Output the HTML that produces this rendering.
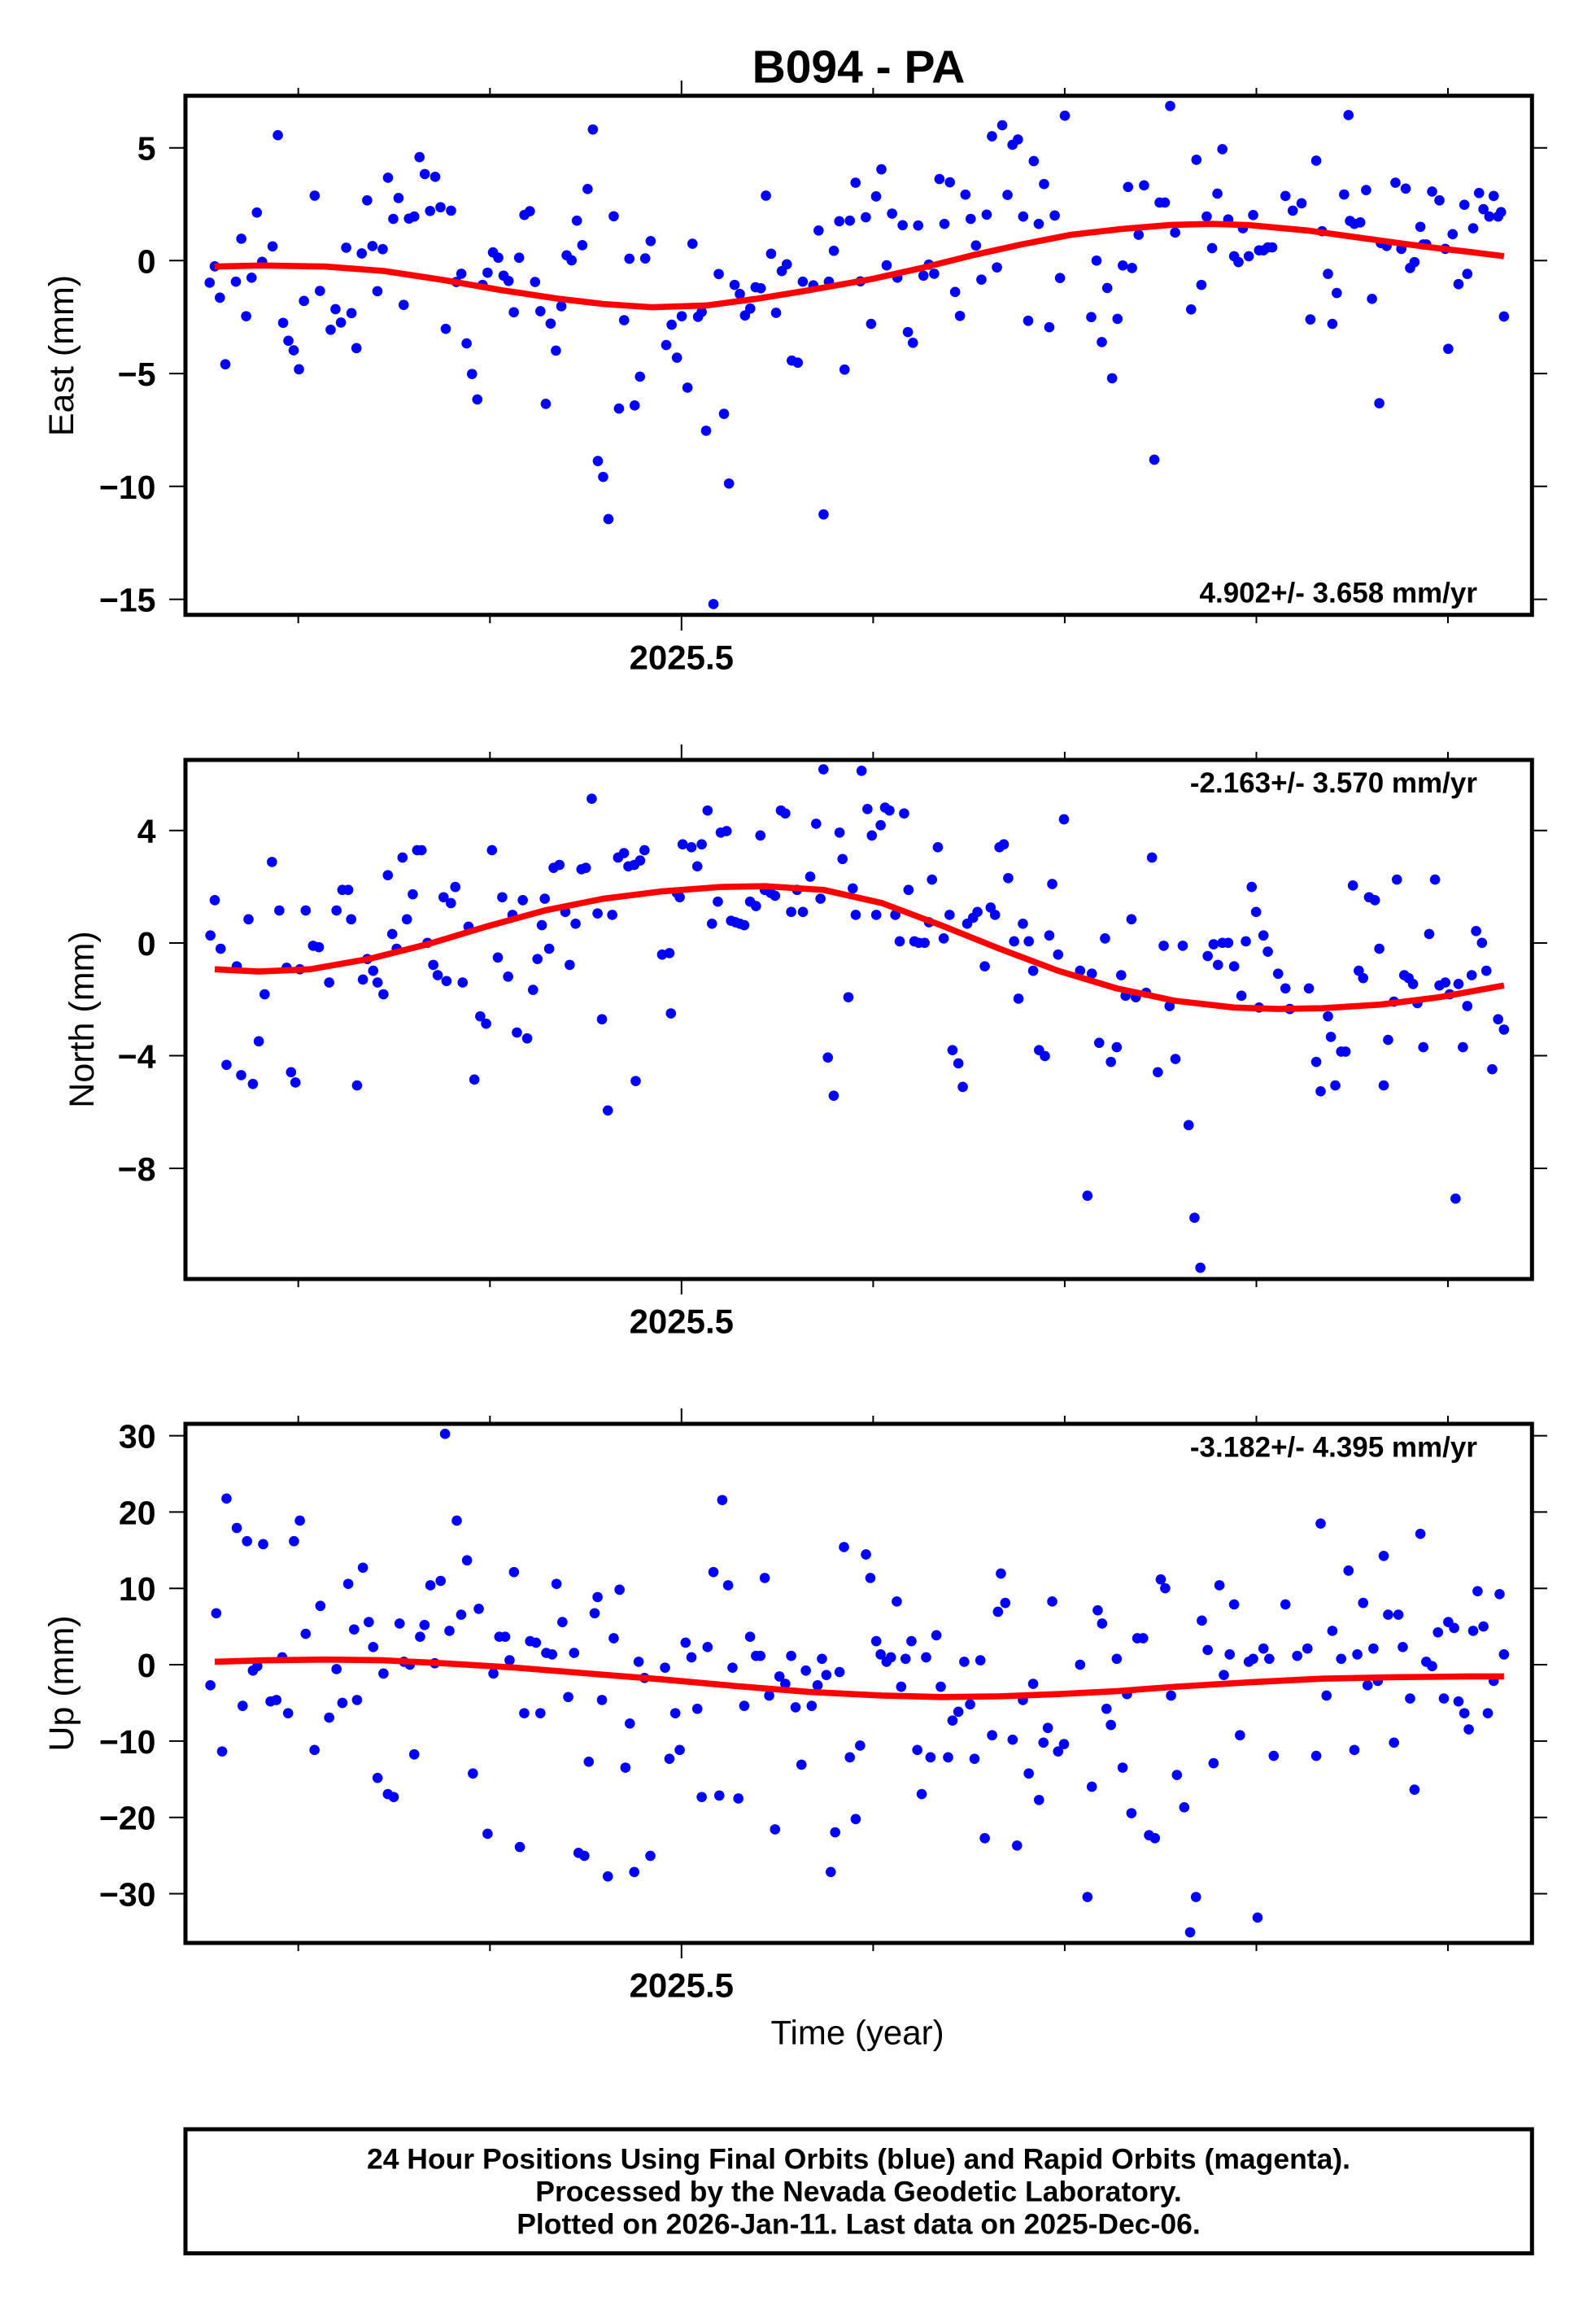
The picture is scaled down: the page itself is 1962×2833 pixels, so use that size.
<!DOCTYPE html>
<html><head><meta charset="utf-8"><style>
html,body{margin:0;padding:0;background:#fff}
svg{display:block}
text{font-family:"Liberation Sans",Arial,Helvetica,sans-serif;fill:#000}
.d circle{fill:#0000ff}
</style></head><body>
<svg xmlns="http://www.w3.org/2000/svg" width="1962" height="2833" viewBox="0 0 1962 2833">
<rect width="1962" height="2833" fill="#fff"/>
<text x="1055.5" y="101.7" font-size="57" font-weight="bold" text-anchor="middle">B094 - PA</text>

<g transform="matrix(1.803 0 0 1.807 2.6 0.5)">
<g class="d">
<circle cx="141.5" cy="192" r="3.5"/><circle cx="145" cy="180.9" r="3.5"/><circle cx="148.5" cy="202.2" r="3.5"/><circle cx="152.2" cy="247.5" r="3.5"/><circle cx="159.4" cy="191.3" r="3.5"/><circle cx="163.1" cy="162.1" r="3.5"/><circle cx="166.4" cy="214.8" r="3.5"/><circle cx="170.1" cy="188.6" r="3.5"/><circle cx="173.7" cy="144.3" r="3.5"/><circle cx="177.3" cy="177.8" r="3.5"/><circle cx="184.4" cy="167.3" r="3.5"/><circle cx="188" cy="91.7" r="3.5"/><circle cx="191.6" cy="219.3" r="3.5"/><circle cx="195.2" cy="231.5" r="3.5"/><circle cx="198.8" cy="238" r="3.5"/><circle cx="202.4" cy="250.9" r="3.5"/><circle cx="205.8" cy="204.4" r="3.5"/><circle cx="213.1" cy="132.8" r="3.5"/><circle cx="216.7" cy="197.6" r="3.5"/><circle cx="224" cy="224" r="3.5"/><circle cx="227.3" cy="210" r="3.5"/><circle cx="231" cy="219.1" r="3.5"/><circle cx="234.6" cy="168.2" r="3.5"/><circle cx="238.2" cy="212.7" r="3.5"/><circle cx="241.6" cy="236.5" r="3.5"/><circle cx="245.2" cy="172.1" r="3.5"/><circle cx="248.9" cy="136" r="3.5"/><circle cx="252.5" cy="167.1" r="3.5"/><circle cx="255.9" cy="197.8" r="3.5"/><circle cx="259.5" cy="169.2" r="3.5"/><circle cx="263.1" cy="120.6" r="3.5"/><circle cx="266.7" cy="148.6" r="3.5"/><circle cx="270.3" cy="134.4" r="3.5"/><circle cx="273.8" cy="207.1" r="3.5"/><circle cx="277.4" cy="148.4" r="3.5"/><circle cx="281" cy="147" r="3.5"/><circle cx="284.6" cy="106.6" r="3.5"/><circle cx="288.2" cy="118.1" r="3.5"/><circle cx="291.8" cy="143.2" r="3.5"/><circle cx="295.3" cy="120" r="3.5"/><circle cx="298.9" cy="140.7" r="3.5"/><circle cx="302.5" cy="223.4" r="3.5"/><circle cx="306.1" cy="143" r="3.5"/><circle cx="309.7" cy="191.5" r="3.5"/><circle cx="313.1" cy="185.9" r="3.5"/><circle cx="316.7" cy="233.3" r="3.5"/><circle cx="320.4" cy="254.1" r="3.5"/><circle cx="324" cy="271.4" r="3.5"/><circle cx="327.6" cy="193.5" r="3.5"/><circle cx="331" cy="185.2" r="3.5"/><circle cx="334.7" cy="171.4" r="3.5"/><circle cx="338.3" cy="175" r="3.5"/><circle cx="341.9" cy="187.2" r="3.5"/><circle cx="345.3" cy="190.8" r="3.5"/><circle cx="348.9" cy="212.1" r="3.5"/><circle cx="352.5" cy="175" r="3.5"/><circle cx="356.1" cy="145.9" r="3.5"/><circle cx="359.8" cy="143.4" r="3.5"/><circle cx="363.4" cy="191.5" r="3.5"/><circle cx="367" cy="211.4" r="3.5"/><circle cx="370.7" cy="274.4" r="3.5"/><circle cx="374" cy="219.8" r="3.5"/><circle cx="377.6" cy="238.2" r="3.5"/><circle cx="381.3" cy="208" r="3.5"/><circle cx="384.9" cy="173.4" r="3.5"/><circle cx="388.3" cy="176.8" r="3.5"/><circle cx="391.9" cy="149.8" r="3.5"/><circle cx="395.6" cy="166.5" r="3.5"/><circle cx="399.2" cy="128.3" r="3.5"/><circle cx="402.8" cy="87.8" r="3.5"/><circle cx="406.2" cy="313.3" r="3.5"/><circle cx="409.8" cy="324.1" r="3.5"/><circle cx="413.4" cy="352.8" r="3.5"/><circle cx="417" cy="146.8" r="3.5"/><circle cx="420.6" cy="277.6" r="3.5"/><circle cx="424.1" cy="217.5" r="3.5"/><circle cx="427.7" cy="175.7" r="3.5"/><circle cx="431.3" cy="275.5" r="3.5"/><circle cx="434.9" cy="255.9" r="3.5"/><circle cx="438.5" cy="175.5" r="3.5"/><circle cx="442.2" cy="163.7" r="3.5"/><circle cx="452.8" cy="234.4" r="3.5"/><circle cx="456.5" cy="220.6" r="3.5"/><circle cx="460.1" cy="243" r="3.5"/><circle cx="463.4" cy="214.8" r="3.5"/><circle cx="467.3" cy="263.4" r="3.5"/><circle cx="470.7" cy="165.5" r="3.5"/><circle cx="474.5" cy="215.2" r="3.5"/><circle cx="477" cy="211.9" r="3.5"/><circle cx="480" cy="292.7" r="3.5"/>
<circle cx="485" cy="410.6" r="3.5"/><circle cx="488.6" cy="186.1" r="3.5"/><circle cx="492.2" cy="281.2" r="3.5"/><circle cx="495.6" cy="328.6" r="3.5"/><circle cx="499.4" cy="193.5" r="3.5"/><circle cx="503" cy="199.7" r="3.5"/><circle cx="506.5" cy="214.3" r="3.5"/><circle cx="510.1" cy="209.6" r="3.5"/><circle cx="513.7" cy="195.1" r="3.5"/><circle cx="517.3" cy="195.8" r="3.5"/><circle cx="520.8" cy="132.8" r="3.5"/><circle cx="524.3" cy="172.3" r="3.5"/><circle cx="527.7" cy="212.5" r="3.5"/><circle cx="531.6" cy="184.1" r="3.5"/><circle cx="535" cy="179.5" r="3.5"/><circle cx="538.4" cy="245" r="3.5"/><circle cx="542.5" cy="246.4" r="3.5"/><circle cx="545.9" cy="191.3" r="3.5"/><circle cx="553.1" cy="193.8" r="3.5"/><circle cx="556.7" cy="156.5" r="3.5"/><circle cx="560.1" cy="349.6" r="3.5"/><circle cx="563.7" cy="191.3" r="3.5"/><circle cx="567.1" cy="170.3" r="3.5"/><circle cx="570.8" cy="150.2" r="3.5"/><circle cx="574.4" cy="251.1" r="3.5"/><circle cx="578" cy="149.8" r="3.5"/><circle cx="581.9" cy="124" r="3.5"/><circle cx="585.2" cy="191.1" r="3.5"/><circle cx="588.9" cy="147.5" r="3.5"/><circle cx="592.5" cy="220" r="3.5"/><circle cx="595.9" cy="133.3" r="3.5"/><circle cx="599.5" cy="114.9" r="3.5"/><circle cx="603.1" cy="180.2" r="3.5"/><circle cx="606.8" cy="145" r="3.5"/><circle cx="610.4" cy="188.6" r="3.5"/><circle cx="614" cy="152.9" r="3.5"/><circle cx="617.6" cy="225.6" r="3.5"/><circle cx="621" cy="232.9" r="3.5"/><circle cx="624.6" cy="153.1" r="3.5"/><circle cx="628.2" cy="187.2" r="3.5"/><circle cx="631.9" cy="179.7" r="3.5"/><circle cx="635.5" cy="185.9" r="3.5"/><circle cx="639.1" cy="121.5" r="3.5"/><circle cx="642.5" cy="152" r="3.5"/><circle cx="646.2" cy="123.7" r="3.5"/><circle cx="649.8" cy="198.3" r="3.5"/><circle cx="653.1" cy="214.6" r="3.5"/><circle cx="656.8" cy="132.1" r="3.5"/><circle cx="660.4" cy="148.6" r="3.5"/><circle cx="664" cy="166.7" r="3.5"/><circle cx="667.7" cy="189.9" r="3.5"/><circle cx="671.3" cy="145.7" r="3.5"/><circle cx="674.9" cy="92.4" r="3.5"/><circle cx="678.3" cy="181.6" r="3.5"/><circle cx="681.9" cy="84.9" r="3.5"/><circle cx="685.5" cy="132.3" r="3.5"/><circle cx="688.9" cy="98.2" r="3.5"/><circle cx="692.6" cy="94.6" r="3.5"/><circle cx="696.2" cy="147" r="3.5"/><circle cx="699.6" cy="217.9" r="3.5"/><circle cx="703.4" cy="109.3" r="3.5"/><circle cx="706.8" cy="152" r="3.5"/><circle cx="710.4" cy="124.9" r="3.5"/><circle cx="714" cy="222.3" r="3.5"/><circle cx="717.7" cy="146.3" r="3.5"/><circle cx="721.3" cy="188.8" r="3.5"/><circle cx="724.6" cy="78.4" r="3.5"/><circle cx="742.6" cy="215.4" r="3.5"/><circle cx="746.2" cy="177" r="3.5"/><circle cx="749.8" cy="232.4" r="3.5"/><circle cx="753.5" cy="195.6" r="3.5"/><circle cx="756.8" cy="257" r="3.5"/><circle cx="760.5" cy="216.6" r="3.5"/><circle cx="764.1" cy="180.3" r="3.5"/><circle cx="767.7" cy="126.9" r="3.5"/><circle cx="770.4" cy="182" r="3.5"/><circle cx="774.9" cy="159.4" r="3.5"/><circle cx="778.6" cy="125.8" r="3.5"/><circle cx="785.6" cy="312.4" r="3.5"/><circle cx="789.2" cy="137.5" r="3.5"/><circle cx="792.8" cy="137.5" r="3.5"/><circle cx="796.4" cy="71.8" r="3.5"/><circle cx="799.8" cy="157.9" r="3.5"/><circle cx="810.7" cy="210.2" r="3.5"/><circle cx="814.3" cy="108.4" r="3.5"/><circle cx="817.7" cy="193.5" r="3.5"/><circle cx="821.3" cy="147" r="3.5"/><circle cx="825" cy="168.5" r="3.5"/><circle cx="828.6" cy="131.4" r="3.5"/><circle cx="832" cy="101.2" r="3.5"/>
<circle cx="836" cy="149" r="3.5"/><circle cx="840" cy="174" r="3.5"/><circle cx="843" cy="178" r="3.5"/><circle cx="846" cy="155" r="3.5"/><circle cx="850" cy="174" r="3.5"/><circle cx="853" cy="146" r="3.5"/><circle cx="857" cy="170" r="3.5"/><circle cx="860" cy="170" r="3.5"/><circle cx="863" cy="168" r="3.5"/><circle cx="866" cy="168" r="3.5"/><circle cx="875" cy="133" r="3.5"/><circle cx="880" cy="143" r="3.5"/><circle cx="886" cy="138" r="3.5"/><circle cx="892" cy="217" r="3.5"/><circle cx="896" cy="109" r="3.5"/><circle cx="900" cy="157" r="3.5"/><circle cx="904" cy="186" r="3.5"/><circle cx="907" cy="220" r="3.5"/><circle cx="910" cy="199" r="3.5"/><circle cx="915" cy="132" r="3.5"/><circle cx="918" cy="78" r="3.5"/><circle cx="919" cy="150" r="3.5"/><circle cx="922" cy="152" r="3.5"/><circle cx="926" cy="151" r="3.5"/><circle cx="930" cy="129" r="3.5"/><circle cx="934" cy="203" r="3.5"/><circle cx="939" cy="274" r="3.5"/><circle cx="940" cy="165" r="3.5"/><circle cx="944" cy="167" r="3.5"/><circle cx="950" cy="124" r="3.5"/><circle cx="954" cy="169" r="3.5"/><circle cx="957" cy="128" r="3.5"/><circle cx="960" cy="182" r="3.5"/><circle cx="963" cy="178" r="3.5"/><circle cx="967" cy="154" r="3.5"/><circle cx="969" cy="166" r="3.5"/><circle cx="971" cy="166" r="3.5"/><circle cx="975" cy="130" r="3.5"/><circle cx="980" cy="136" r="3.5"/><circle cx="984" cy="169" r="3.5"/><circle cx="986" cy="237" r="3.5"/><circle cx="989" cy="159" r="3.5"/><circle cx="993" cy="193" r="3.5"/><circle cx="997" cy="139" r="3.5"/><circle cx="999" cy="186" r="3.5"/><circle cx="1003" cy="155" r="3.5"/><circle cx="1007" cy="131" r="3.5"/><circle cx="1010" cy="142" r="3.5"/><circle cx="1014" cy="147" r="3.5"/><circle cx="1017" cy="133" r="3.5"/><circle cx="1020" cy="147" r="3.5"/><circle cx="1022" cy="144" r="3.5"/><circle cx="1024" cy="215" r="3.5"/>

<circle cx="142" cy="636" r="3.5"/><circle cx="145" cy="612" r="3.5"/><circle cx="149" cy="645" r="3.5"/><circle cx="153" cy="724" r="3.5"/><circle cx="160" cy="657" r="3.5"/><circle cx="163" cy="731" r="3.5"/><circle cx="168" cy="625" r="3.5"/><circle cx="171" cy="737" r="3.5"/><circle cx="175" cy="708" r="3.5"/><circle cx="179" cy="676" r="3.5"/><circle cx="184" cy="586" r="3.5"/><circle cx="189" cy="619" r="3.5"/><circle cx="194" cy="658" r="3.5"/><circle cx="197" cy="729" r="3.5"/><circle cx="200" cy="736" r="3.5"/><circle cx="203" cy="659" r="3.5"/><circle cx="207" cy="619" r="3.5"/><circle cx="212" cy="643" r="3.5"/><circle cx="216" cy="644" r="3.5"/><circle cx="223" cy="668" r="3.5"/><circle cx="228" cy="619" r="3.5"/><circle cx="232" cy="605" r="3.5"/><circle cx="236" cy="605" r="3.5"/><circle cx="238" cy="625" r="3.5"/><circle cx="242" cy="738" r="3.5"/><circle cx="246" cy="666" r="3.5"/><circle cx="249" cy="652" r="3.5"/><circle cx="253" cy="660" r="3.5"/><circle cx="256" cy="668" r="3.5"/><circle cx="260" cy="676" r="3.5"/><circle cx="263" cy="595" r="3.5"/><circle cx="266" cy="635" r="3.5"/><circle cx="269" cy="645" r="3.5"/><circle cx="273" cy="583" r="3.5"/><circle cx="276" cy="625" r="3.5"/><circle cx="280" cy="608" r="3.5"/><circle cx="283" cy="578" r="3.5"/><circle cx="286" cy="578" r="3.5"/><circle cx="290" cy="641" r="3.5"/><circle cx="294" cy="656" r="3.5"/><circle cx="297" cy="663" r="3.5"/><circle cx="301" cy="610" r="3.5"/><circle cx="303" cy="667" r="3.5"/><circle cx="306" cy="614" r="3.5"/><circle cx="309" cy="603" r="3.5"/><circle cx="314" cy="668" r="3.5"/><circle cx="318" cy="630" r="3.5"/><circle cx="322" cy="734" r="3.5"/><circle cx="326" cy="691" r="3.5"/><circle cx="330" cy="696" r="3.5"/><circle cx="334" cy="578" r="3.5"/><circle cx="338" cy="651" r="3.5"/><circle cx="341" cy="610" r="3.5"/><circle cx="345" cy="664" r="3.5"/><circle cx="348" cy="622" r="3.5"/><circle cx="351" cy="702" r="3.5"/><circle cx="355" cy="612" r="3.5"/><circle cx="358" cy="706" r="3.5"/><circle cx="362" cy="673" r="3.5"/><circle cx="365" cy="652" r="3.5"/><circle cx="368" cy="629" r="3.5"/><circle cx="370" cy="611" r="3.5"/><circle cx="373" cy="645" r="3.5"/><circle cx="376" cy="590" r="3.5"/><circle cx="380" cy="588" r="3.5"/><circle cx="384" cy="620" r="3.5"/><circle cx="387" cy="656" r="3.5"/><circle cx="391" cy="628" r="3.5"/><circle cx="395" cy="591" r="3.5"/><circle cx="398" cy="590" r="3.5"/><circle cx="402" cy="543" r="3.5"/><circle cx="406" cy="621" r="3.5"/><circle cx="409" cy="693" r="3.5"/><circle cx="413" cy="755" r="3.5"/><circle cx="416" cy="622" r="3.5"/><circle cx="420" cy="583" r="3.5"/><circle cx="424" cy="580" r="3.5"/><circle cx="427" cy="589" r="3.5"/><circle cx="431" cy="588" r="3.5"/><circle cx="432" cy="735" r="3.5"/><circle cx="435" cy="585" r="3.5"/><circle cx="438" cy="578" r="3.5"/><circle cx="450" cy="649" r="3.5"/><circle cx="455" cy="648" r="3.5"/><circle cx="456" cy="689" r="3.5"/><circle cx="460" cy="607" r="3.5"/><circle cx="462" cy="610" r="3.5"/><circle cx="464" cy="574" r="3.5"/><circle cx="470" cy="576" r="3.5"/><circle cx="474" cy="589" r="3.5"/><circle cx="477" cy="574" r="3.5"/><circle cx="481" cy="551" r="3.5"/><circle cx="484" cy="628" r="3.5"/><circle cx="488" cy="613" r="3.5"/><circle cx="490" cy="566" r="3.5"/><circle cx="494" cy="565" r="3.5"/><circle cx="497" cy="626" r="3.5"/><circle cx="500" cy="627" r="3.5"/><circle cx="503" cy="628" r="3.5"/><circle cx="506" cy="629" r="3.5"/><circle cx="510" cy="613" r="3.5"/><circle cx="514" cy="616" r="3.5"/><circle cx="517" cy="568" r="3.5"/><circle cx="520" cy="605" r="3.5"/><circle cx="524" cy="607" r="3.5"/><circle cx="527" cy="609" r="3.5"/><circle cx="531" cy="551" r="3.5"/><circle cx="534" cy="553" r="3.5"/><circle cx="538" cy="620" r="3.5"/><circle cx="542" cy="605" r="3.5"/><circle cx="546" cy="620" r="3.5"/><circle cx="551" cy="596" r="3.5"/><circle cx="555" cy="560" r="3.5"/><circle cx="558" cy="611" r="3.5"/><circle cx="560" cy="523" r="3.5"/><circle cx="563" cy="719" r="3.5"/><circle cx="567" cy="745" r="3.5"/><circle cx="571" cy="566" r="3.5"/><circle cx="573" cy="584" r="3.5"/><circle cx="577" cy="678" r="3.5"/><circle cx="580" cy="604" r="3.5"/><circle cx="582" cy="622" r="3.5"/><circle cx="586" cy="524" r="3.5"/><circle cx="590" cy="550" r="3.5"/><circle cx="593" cy="568" r="3.5"/><circle cx="596" cy="622" r="3.5"/><circle cx="599" cy="561" r="3.5"/><circle cx="602" cy="549" r="3.5"/><circle cx="605" cy="551" r="3.5"/><circle cx="609" cy="622" r="3.5"/><circle cx="612" cy="640" r="3.5"/><circle cx="615" cy="553" r="3.5"/><circle cx="618" cy="605" r="3.5"/><circle cx="622" cy="640" r="3.5"/><circle cx="625" cy="641" r="3.5"/><circle cx="629" cy="641" r="3.5"/><circle cx="632" cy="627" r="3.5"/><circle cx="634" cy="598" r="3.5"/><circle cx="638" cy="576" r="3.5"/><circle cx="642" cy="638" r="3.5"/><circle cx="646" cy="622" r="3.5"/><circle cx="648" cy="714" r="3.5"/><circle cx="652" cy="723" r="3.5"/><circle cx="655" cy="739" r="3.5"/><circle cx="658" cy="628" r="3.5"/><circle cx="662" cy="624" r="3.5"/><circle cx="665" cy="620" r="3.5"/><circle cx="670" cy="657" r="3.5"/><circle cx="674" cy="617" r="3.5"/><circle cx="677" cy="622" r="3.5"/><circle cx="680" cy="576" r="3.5"/><circle cx="683" cy="574" r="3.5"/><circle cx="686" cy="597" r="3.5"/><circle cx="690" cy="640" r="3.5"/><circle cx="693" cy="679" r="3.5"/><circle cx="696" cy="628" r="3.5"/><circle cx="700" cy="640" r="3.5"/><circle cx="703" cy="660" r="3.5"/><circle cx="707" cy="714" r="3.5"/><circle cx="711" cy="718" r="3.5"/><circle cx="714" cy="636" r="3.5"/><circle cx="716" cy="601" r="3.5"/><circle cx="720" cy="649" r="3.5"/><circle cx="724" cy="557" r="3.5"/><circle cx="735" cy="660" r="3.5"/><circle cx="740" cy="813" r="3.5"/><circle cx="743" cy="662" r="3.5"/><circle cx="748" cy="709" r="3.5"/><circle cx="752" cy="638" r="3.5"/><circle cx="756" cy="722" r="3.5"/><circle cx="760" cy="712" r="3.5"/><circle cx="763" cy="663" r="3.5"/><circle cx="766" cy="677" r="3.5"/><circle cx="770" cy="625" r="3.5"/><circle cx="773" cy="678" r="3.5"/><circle cx="780" cy="675" r="3.5"/><circle cx="784" cy="583" r="3.5"/><circle cx="788" cy="729" r="3.5"/><circle cx="792" cy="643" r="3.5"/><circle cx="796" cy="684" r="3.5"/><circle cx="800" cy="720" r="3.5"/><circle cx="805" cy="643" r="3.5"/><circle cx="809" cy="765" r="3.5"/><circle cx="813" cy="828" r="3.5"/><circle cx="817" cy="862" r="3.5"/><circle cx="822" cy="650" r="3.5"/><circle cx="826" cy="642" r="3.5"/><circle cx="829" cy="656" r="3.5"/><circle cx="832" cy="641" r="3.5"/><circle cx="836" cy="641" r="3.5"/><circle cx="840" cy="657" r="3.5"/><circle cx="845" cy="677" r="3.5"/><circle cx="848" cy="640" r="3.5"/><circle cx="852" cy="603" r="3.5"/><circle cx="855" cy="620" r="3.5"/><circle cx="857" cy="685" r="3.5"/><circle cx="860" cy="636" r="3.5"/><circle cx="863" cy="647" r="3.5"/><circle cx="870" cy="662" r="3.5"/><circle cx="875" cy="672" r="3.5"/><circle cx="878" cy="686" r="3.5"/><circle cx="891" cy="672" r="3.5"/><circle cx="896" cy="722" r="3.5"/><circle cx="899" cy="742" r="3.5"/><circle cx="904" cy="691" r="3.5"/><circle cx="906" cy="705" r="3.5"/><circle cx="909" cy="738" r="3.5"/><circle cx="913" cy="715" r="3.5"/><circle cx="916" cy="715" r="3.5"/><circle cx="921" cy="602" r="3.5"/><circle cx="925" cy="660" r="3.5"/><circle cx="928" cy="665" r="3.5"/><circle cx="932" cy="610" r="3.5"/><circle cx="936" cy="612" r="3.5"/><circle cx="939" cy="645" r="3.5"/><circle cx="942" cy="738" r="3.5"/><circle cx="945" cy="707" r="3.5"/><circle cx="949" cy="681" r="3.5"/><circle cx="951" cy="598" r="3.5"/><circle cx="956" cy="663" r="3.5"/><circle cx="959" cy="665" r="3.5"/><circle cx="962" cy="669" r="3.5"/><circle cx="965" cy="682" r="3.5"/><circle cx="969" cy="712" r="3.5"/><circle cx="973" cy="635" r="3.5"/><circle cx="977" cy="598" r="3.5"/><circle cx="980" cy="670" r="3.5"/><circle cx="984" cy="668" r="3.5"/><circle cx="987" cy="676" r="3.5"/><circle cx="991" cy="815" r="3.5"/><circle cx="993" cy="669" r="3.5"/><circle cx="996" cy="712" r="3.5"/><circle cx="999" cy="684" r="3.5"/><circle cx="1002" cy="663" r="3.5"/><circle cx="1005" cy="633" r="3.5"/><circle cx="1009" cy="641" r="3.5"/><circle cx="1012" cy="660" r="3.5"/><circle cx="1016" cy="727" r="3.5"/><circle cx="1020" cy="693" r="3.5"/><circle cx="1024" cy="700" r="3.5"/>

<circle cx="142" cy="1146" r="3.5"/><circle cx="146" cy="1097" r="3.5"/><circle cx="150" cy="1191" r="3.5"/><circle cx="153" cy="1019" r="3.5"/><circle cx="160" cy="1039" r="3.5"/><circle cx="164" cy="1160" r="3.5"/><circle cx="167" cy="1048" r="3.5"/><circle cx="171" cy="1136" r="3.5"/><circle cx="174" cy="1133" r="3.5"/><circle cx="178" cy="1050" r="3.5"/><circle cx="183" cy="1157" r="3.5"/><circle cx="187" cy="1156" r="3.5"/><circle cx="191" cy="1127" r="3.5"/><circle cx="195" cy="1165" r="3.5"/><circle cx="199" cy="1048" r="3.5"/><circle cx="203" cy="1034" r="3.5"/><circle cx="207" cy="1111" r="3.5"/><circle cx="213" cy="1190" r="3.5"/><circle cx="217" cy="1092" r="3.5"/><circle cx="223" cy="1168" r="3.5"/><circle cx="228" cy="1135" r="3.5"/><circle cx="232" cy="1158" r="3.5"/><circle cx="236" cy="1077" r="3.5"/><circle cx="240" cy="1108" r="3.5"/><circle cx="242" cy="1156" r="3.5"/><circle cx="246" cy="1066" r="3.5"/><circle cx="250" cy="1103" r="3.5"/><circle cx="253" cy="1120" r="3.5"/><circle cx="256" cy="1209" r="3.5"/><circle cx="260" cy="1138" r="3.5"/><circle cx="263" cy="1220" r="3.5"/><circle cx="267" cy="1222" r="3.5"/><circle cx="271" cy="1104" r="3.5"/><circle cx="274" cy="1130" r="3.5"/><circle cx="278" cy="1132" r="3.5"/><circle cx="281" cy="1193" r="3.5"/><circle cx="285" cy="1113" r="3.5"/><circle cx="288" cy="1105" r="3.5"/><circle cx="292" cy="1078" r="3.5"/><circle cx="295" cy="1131" r="3.5"/><circle cx="299" cy="1075" r="3.5"/><circle cx="302" cy="975" r="3.5"/><circle cx="305" cy="1109" r="3.5"/><circle cx="310" cy="1034" r="3.5"/><circle cx="313" cy="1098" r="3.5"/><circle cx="317" cy="1061" r="3.5"/><circle cx="321" cy="1206" r="3.5"/><circle cx="325" cy="1094" r="3.5"/><circle cx="331" cy="1247" r="3.5"/><circle cx="335" cy="1138" r="3.5"/><circle cx="339" cy="1113" r="3.5"/><circle cx="343" cy="1113" r="3.5"/><circle cx="346" cy="1129" r="3.5"/><circle cx="349" cy="1069" r="3.5"/><circle cx="353" cy="1256" r="3.5"/><circle cx="356" cy="1165" r="3.5"/><circle cx="360" cy="1116" r="3.5"/><circle cx="364" cy="1117" r="3.5"/><circle cx="367" cy="1165" r="3.5"/><circle cx="371" cy="1124" r="3.5"/><circle cx="375" cy="1125" r="3.5"/><circle cx="378" cy="1077" r="3.5"/><circle cx="382" cy="1103" r="3.5"/><circle cx="386" cy="1154" r="3.5"/><circle cx="390" cy="1124" r="3.5"/><circle cx="393" cy="1260" r="3.5"/><circle cx="397" cy="1262" r="3.5"/><circle cx="400" cy="1198" r="3.5"/><circle cx="404" cy="1097" r="3.5"/><circle cx="406" cy="1086" r="3.5"/><circle cx="409" cy="1156" r="3.5"/><circle cx="413" cy="1276" r="3.5"/><circle cx="417" cy="1114" r="3.5"/><circle cx="421" cy="1081" r="3.5"/><circle cx="425" cy="1202" r="3.5"/><circle cx="428" cy="1172" r="3.5"/><circle cx="431" cy="1273" r="3.5"/><circle cx="434" cy="1130" r="3.5"/><circle cx="438" cy="1141" r="3.5"/><circle cx="442" cy="1262" r="3.5"/><circle cx="452" cy="1134" r="3.5"/><circle cx="455" cy="1196" r="3.5"/><circle cx="459" cy="1165" r="3.5"/><circle cx="462" cy="1190" r="3.5"/><circle cx="466" cy="1117" r="3.5"/><circle cx="470" cy="1127" r="3.5"/><circle cx="474" cy="1162" r="3.5"/><circle cx="477" cy="1222" r="3.5"/><circle cx="481" cy="1120" r="3.5"/><circle cx="485" cy="1069" r="3.5"/><circle cx="489" cy="1221" r="3.5"/><circle cx="491" cy="1020" r="3.5"/><circle cx="495" cy="1078" r="3.5"/><circle cx="498" cy="1134" r="3.5"/><circle cx="502" cy="1223" r="3.5"/><circle cx="506" cy="1160" r="3.5"/><circle cx="510" cy="1113" r="3.5"/><circle cx="514" cy="1126" r="3.5"/><circle cx="517" cy="1126" r="3.5"/><circle cx="520" cy="1073" r="3.5"/><circle cx="523" cy="1153" r="3.5"/><circle cx="527" cy="1244" r="3.5"/><circle cx="530" cy="1140" r="3.5"/><circle cx="534" cy="1145" r="3.5"/><circle cx="538" cy="1126" r="3.5"/><circle cx="541" cy="1161" r="3.5"/><circle cx="545" cy="1200" r="3.5"/><circle cx="548" cy="1136" r="3.5"/><circle cx="552" cy="1160" r="3.5"/><circle cx="556" cy="1146" r="3.5"/><circle cx="559" cy="1128" r="3.5"/><circle cx="562" cy="1139" r="3.5"/><circle cx="565" cy="1273" r="3.5"/><circle cx="568" cy="1246" r="3.5"/><circle cx="571" cy="1137" r="3.5"/><circle cx="574" cy="1052" r="3.5"/><circle cx="578" cy="1195" r="3.5"/><circle cx="582" cy="1237" r="3.5"/><circle cx="585" cy="1187" r="3.5"/><circle cx="589" cy="1057" r="3.5"/><circle cx="592" cy="1073" r="3.5"/><circle cx="596" cy="1116" r="3.5"/><circle cx="599" cy="1125" r="3.5"/><circle cx="603" cy="1130" r="3.5"/><circle cx="606" cy="1127" r="3.5"/><circle cx="610" cy="1089" r="3.5"/><circle cx="613" cy="1147" r="3.5"/><circle cx="616" cy="1128" r="3.5"/><circle cx="620" cy="1116" r="3.5"/><circle cx="624" cy="1190" r="3.5"/><circle cx="627" cy="1220" r="3.5"/><circle cx="630" cy="1127" r="3.5"/><circle cx="633" cy="1195" r="3.5"/><circle cx="637" cy="1112" r="3.5"/><circle cx="640" cy="1147" r="3.5"/><circle cx="645" cy="1195" r="3.5"/><circle cx="648" cy="1170" r="3.5"/><circle cx="652" cy="1164" r="3.5"/><circle cx="656" cy="1130" r="3.5"/><circle cx="660" cy="1159" r="3.5"/><circle cx="663" cy="1196" r="3.5"/><circle cx="667" cy="1129" r="3.5"/><circle cx="670" cy="1250" r="3.5"/><circle cx="675" cy="1180" r="3.5"/><circle cx="679" cy="1096" r="3.5"/><circle cx="681" cy="1070" r="3.5"/><circle cx="684" cy="1090" r="3.5"/><circle cx="689" cy="1183" r="3.5"/><circle cx="692" cy="1255" r="3.5"/><circle cx="696" cy="1156" r="3.5"/><circle cx="700" cy="1206" r="3.5"/><circle cx="703" cy="1145" r="3.5"/><circle cx="707" cy="1224" r="3.5"/><circle cx="710" cy="1185" r="3.5"/><circle cx="713" cy="1175" r="3.5"/><circle cx="716" cy="1089" r="3.5"/><circle cx="720" cy="1191" r="3.5"/><circle cx="724" cy="1186" r="3.5"/><circle cx="735" cy="1132" r="3.5"/><circle cx="740" cy="1290" r="3.5"/><circle cx="743" cy="1215" r="3.5"/><circle cx="747" cy="1095" r="3.5"/><circle cx="750" cy="1104" r="3.5"/><circle cx="753" cy="1162" r="3.5"/><circle cx="756" cy="1173" r="3.5"/><circle cx="760" cy="1128" r="3.5"/><circle cx="764" cy="1202" r="3.5"/><circle cx="767" cy="1152" r="3.5"/><circle cx="770" cy="1233" r="3.5"/><circle cx="774" cy="1114" r="3.5"/><circle cx="778" cy="1114" r="3.5"/><circle cx="782" cy="1248" r="3.5"/><circle cx="786" cy="1250" r="3.5"/><circle cx="790" cy="1074" r="3.5"/><circle cx="793" cy="1080" r="3.5"/><circle cx="797" cy="1153" r="3.5"/><circle cx="801" cy="1207" r="3.5"/><circle cx="806" cy="1229" r="3.5"/><circle cx="810" cy="1314" r="3.5"/><circle cx="814" cy="1290" r="3.5"/><circle cx="818" cy="1102" r="3.5"/><circle cx="822" cy="1122" r="3.5"/><circle cx="826" cy="1199" r="3.5"/><circle cx="830" cy="1078" r="3.5"/><circle cx="833" cy="1139" r="3.5"/><circle cx="837" cy="1125" r="3.5"/><circle cx="840" cy="1091" r="3.5"/><circle cx="844" cy="1180" r="3.5"/><circle cx="850" cy="1130" r="3.5"/><circle cx="853" cy="1128" r="3.5"/><circle cx="856" cy="1304" r="3.5"/><circle cx="860" cy="1121" r="3.5"/><circle cx="864" cy="1128" r="3.5"/><circle cx="867" cy="1194" r="3.5"/><circle cx="875" cy="1091" r="3.5"/><circle cx="883" cy="1126" r="3.5"/><circle cx="890" cy="1121" r="3.5"/><circle cx="896" cy="1194" r="3.5"/><circle cx="899" cy="1036" r="3.5"/><circle cx="903" cy="1153" r="3.5"/><circle cx="907" cy="1109" r="3.5"/><circle cx="913" cy="1128" r="3.5"/><circle cx="918" cy="1068" r="3.5"/><circle cx="922" cy="1190" r="3.5"/><circle cx="924" cy="1125" r="3.5"/><circle cx="928" cy="1090" r="3.5"/><circle cx="931" cy="1146" r="3.5"/><circle cx="935" cy="1121" r="3.5"/><circle cx="938" cy="1143" r="3.5"/><circle cx="942" cy="1058" r="3.5"/><circle cx="945" cy="1098" r="3.5"/><circle cx="949" cy="1185" r="3.5"/><circle cx="952" cy="1098" r="3.5"/><circle cx="955" cy="1120" r="3.5"/><circle cx="960" cy="1155" r="3.5"/><circle cx="963" cy="1217" r="3.5"/><circle cx="967" cy="1043" r="3.5"/><circle cx="971" cy="1130" r="3.5"/><circle cx="975" cy="1133" r="3.5"/><circle cx="979" cy="1110" r="3.5"/><circle cx="983" cy="1155" r="3.5"/><circle cx="986" cy="1103" r="3.5"/><circle cx="990" cy="1107" r="3.5"/><circle cx="993" cy="1157" r="3.5"/><circle cx="997" cy="1165" r="3.5"/><circle cx="1000" cy="1176" r="3.5"/><circle cx="1003" cy="1109" r="3.5"/><circle cx="1006" cy="1082" r="3.5"/><circle cx="1010" cy="1106" r="3.5"/><circle cx="1013" cy="1165" r="3.5"/><circle cx="1017" cy="1143" r="3.5"/><circle cx="1021" cy="1084" r="3.5"/><circle cx="1024" cy="1125" r="3.5"/>
</g>
<g fill="none" stroke="#ff0000" stroke-width="4.2" stroke-linejoin="round" stroke-linecap="butt">
<polyline points="145,181 177,180.3 220,181 260,184 300,190 340,197 380,203 410,206.5 443,208.7 480,207.5 514,203 548,197.5 593,189.5 627,182 661,173.5 695,166 729,159.4 763,155.5 797,152.7 825,152 850,152.8 890,156.5 930,162 970,167.5 1000,171 1024,174"/>
<polyline points="145,659 175,660.5 210,659 250,652 290,642 330,630 370,619 410,611 450,606 490,603 520,602.5 560,605 600,614 640,629 680,645 720,660 760,672 800,680.5 840,685 870,686 900,685.5 940,683 980,678 1024,670"/>
<polyline points="145,1130 180,1129 220,1128.5 260,1129 300,1131 350,1134 400,1138 450,1142 500,1146.5 550,1150.5 600,1153 640,1154 680,1153.5 720,1152 760,1150 800,1147 850,1144 900,1141.5 950,1140.5 1000,1140 1024,1140"/>
</g>
</g>

<g fill="none" stroke="#000" stroke-width="5">
<rect x="228" y="117.7" width="1655.3" height="638"/>
<rect x="228" y="934" width="1655.3" height="638"/>
<rect x="228" y="1750" width="1655.3" height="638"/>
<rect x="228" y="2617" width="1655.3" height="152.5"/>
</g>
<g fill="none" stroke="#000" stroke-width="2">
<path d="M208 181.7H228M208 320.3H228M208 459.1H228M208 597.8H228M208 736.6H228M1883 181.7H1902M1883 320.3H1902M1883 459.1H1902M1883 597.8H1902M1883 736.6H1902"/>
<path d="M366.7 118V108M602.3 118V108M1073.4 118V108M1308.9 118V108M1544.5 118V108M1780 118V108M837.8 118V99M366.7 756V766M602.3 756V766M1073.4 756V766M1308.9 756V766M1544.5 756V766M1780 756V766M837.8 756V775"/>
<path d="M208 1020.7H228M208 1159H228M208 1297.5H228M208 1436H228M1883 1020.7H1902M1883 1159H1902M1883 1297.5H1902M1883 1436H1902"/>
<path d="M366.7 934V924M602.3 934V924M1073.4 934V924M1308.9 934V924M1544.5 934V924M1780 934V924M837.8 934V915M366.7 1572V1582M602.3 1572V1582M1073.4 1572V1582M1308.9 1572V1582M1544.5 1572V1582M1780 1572V1582M837.8 1572V1591"/>
<path d="M208 1764.6H228M208 1858.4H228M208 1952.2H228M208 2046H228M208 2139.9H228M208 2233.7H228M208 2327.5H228M1883 1764.6H1902M1883 1858.4H1902M1883 1952.2H1902M1883 2046H1902M1883 2139.9H1902M1883 2233.7H1902M1883 2327.5H1902"/>
<path d="M366.7 1750V1740M602.3 1750V1740M1073.4 1750V1740M1308.9 1750V1740M1544.5 1750V1740M1780 1750V1740M837.8 1750V1731M366.7 2388V2398M602.3 2388V2398M1073.4 2388V2398M1308.9 2388V2398M1544.5 2388V2398M1780 2388V2398M837.8 2388V2407"/>
</g>

<g font-size="41" text-anchor="end" font-weight="bold">
<text x="191.5" y="196.7">5</text>
<text x="191.5" y="335.3">0</text>
<text x="191.5" y="474.1">−5</text>
<text x="191.5" y="612.8">−10</text>
<text x="191.5" y="751.6">−15</text>
<text x="191.5" y="1035.7">4</text>
<text x="191.5" y="1174">0</text>
<text x="191.5" y="1312.5">−4</text>
<text x="191.5" y="1451">−8</text>
<text x="191.5" y="1779.6">30</text>
<text x="191.5" y="1873.4">20</text>
<text x="191.5" y="1967.2">10</text>
<text x="191.5" y="2061">0</text>
<text x="191.5" y="2154.9">−10</text>
<text x="191.5" y="2248.7">−20</text>
<text x="191.5" y="2342.5">−30</text>
</g>
<g font-size="42" text-anchor="middle" font-weight="bold">
<text x="837.8" y="822.5">2025.5</text>
<text x="837.8" y="1638.5">2025.5</text>
<text x="837.8" y="2454.5">2025.5</text>
</g>

<g font-size="43" text-anchor="middle">
<text transform="translate(90,437) rotate(-90)">East (mm)</text>
<text transform="translate(115,1253) rotate(-90)">North (mm)</text>
<text transform="translate(90,2069) rotate(-90)">Up (mm)</text>
</g>
<text x="1054" y="2512.7" font-size="42" text-anchor="middle">Time (year)</text>

<g font-size="35" text-anchor="end" font-weight="bold">
<text x="1816" y="740.5">4.902+/- 3.658 mm/yr</text>
<text x="1816" y="974">-2.163+/- 3.570 mm/yr</text>
<text x="1816" y="1790.5">-3.182+/- 4.395 mm/yr</text>
</g>

<g font-size="35.5" text-anchor="middle" font-weight="bold">
<text x="1055.5" y="2665.5">24 Hour Positions Using Final Orbits (blue) and Rapid Orbits (magenta).</text>
<text x="1055.5" y="2705.5">Processed by the Nevada Geodetic Laboratory.</text>
<text x="1055.5" y="2745.5">Plotted on 2026-Jan-11. Last data on 2025-Dec-06.</text>
</g>
</svg>
</body></html>
